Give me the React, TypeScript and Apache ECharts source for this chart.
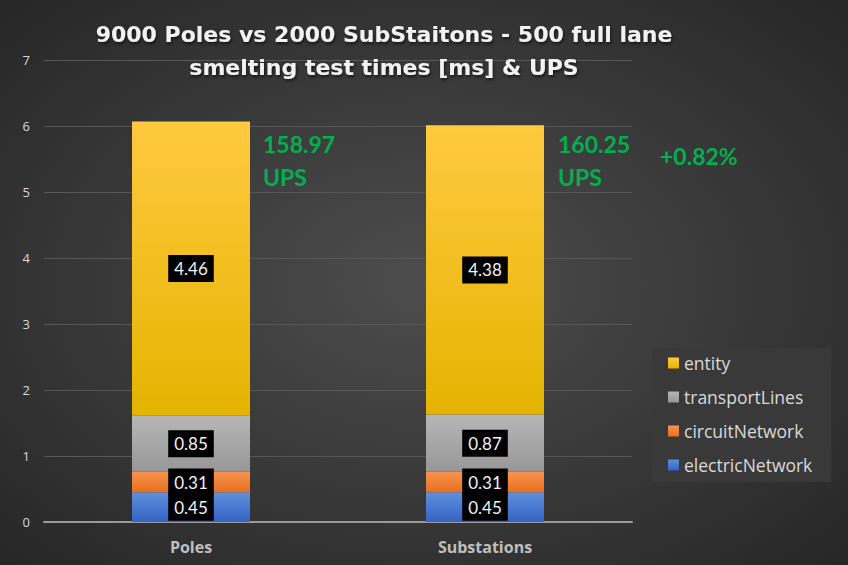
import React, { useEffect, useRef } from "react";
import * as echarts from "echarts";

const categories = ["Poles", "Substations"];
const electricNetwork = [0.45, 0.45];
const circuitNetwork = [0.31, 0.31];
const transportLines = [0.85, 0.87];
const entity = [4.46, 4.38];
const yTicks = [0, 1, 2, 3, 4, 5, 6, 7];
const upsLabels = ["158.97\nUPS", "160.25\nUPS"];
const diffLabel = "+0.82%";
const titleText = "9000 Poles vs 2000 SubStaitons - 500 full lane\nsmelting test times [ms] & UPS";

const FONT = "'Open Sans', Lato, sans-serif";
const GFONT = "Lato, 'Open Sans', sans-serif";
const TFONT = "'DejaVu Sans', 'Open Sans', sans-serif";

const grad = (top: string, bottom: string) => ({
  type: "linear",
  x: 0,
  y: 0,
  x2: 0,
  y2: 1,
  colorStops: [
    { offset: 0, color: top },
    { offset: 1, color: bottom },
  ],
});

export default function App() {
  const ref = useRef<HTMLDivElement>(null);
  useEffect(() => {
    document.body.style.margin = "0";
    if (!ref.current) return;
    const chart = echarts.init(ref.current, undefined, { renderer: "svg" });
    const label = {
      show: true,
      position: "inside",
      backgroundColor: "#000",
      color: "#f2f2f2",
      fontSize: 17,
      lineHeight: 20,
      fontFamily: GFONT,
      padding: [4, 6, 3, 6],
    };
    const mk = (name: string, data: number[], color: any) => ({
      name,
      type: "bar",
      stack: "total",
      data,
      barWidth: 118,
      itemStyle: { color },
      label,
    });
    chart.setOption({
      animation: false,
      backgroundColor: {
        type: "radial",
        x: 0.5,
        y: 0.5,
        r: 0.75,
        colorStops: [
          { offset: 0, color: "#4d4d4d" },
          { offset: 1, color: "#242424" },
        ],
      },
      title: {
        text: titleText,
        left: 384,
        top: 18,
        padding: 0,
        textAlign: "center",
        textStyle: {
          color: "#f2f2f2",
          fontSize: 22,
          fontWeight: "bold",
          fontFamily: TFONT,
          lineHeight: 33,
          textShadowColor: "rgba(0,0,0,0.6)",
          textShadowBlur: 3,
          textShadowOffsetX: 1,
          textShadowOffsetY: 2,
        },
      },
      grid: { left: 44, right: 216, top: 60, bottom: 43 },
      legend: {
        orient: "vertical",
        left: 652,
        top: 348,
        backgroundColor: "#393939",
        padding: [5, 19, 7, 16],
        itemGap: 14,
        itemWidth: 11,
        itemHeight: 11,
        itemTextGap: 13,
        icon: "rect",
        data: ["entity", "transportLines", "circuitNetwork", "electricNetwork"],
        textStyle: { color: "#d9d9d9", fontSize: 17.5, fontFamily: FONT, lineHeight: 20 },
      },
      xAxis: {
        type: "category",
        data: categories,
        axisLine: { lineStyle: { color: "#9a9a9a", width: 2 } },
        axisTick: { show: false },
        axisLabel: { color: "#bfbfbf", fontSize: 16, fontWeight: "bold", fontFamily: FONT, margin: 17 },
      },
      yAxis: {
        type: "value",
        min: yTicks[0],
        max: yTicks[yTicks.length - 1],
        interval: 1,
        axisLine: { show: false },
        axisTick: { show: false },
        splitLine: { lineStyle: { color: "#575757", width: 1 } },
        axisLabel: { color: "#d9d9d9", fontSize: 13, fontFamily: FONT, margin: 14 },
      },
      series: [
        mk("electricNetwork", electricNetwork, grad("#5f8fdc", "#3463c4")),
        mk("circuitNetwork", circuitNetwork, grad("#f7944f", "#e86f1d")),
        mk("transportLines", transportLines, grad("#b6b6b6", "#979797")),
        mk("entity", entity, grad("#ffc940", "#e4b400")),
      ],
      graphic: [
        {
          type: "text",
          x: 263,
          y: 127,
          style: { text: upsLabels[0], fill: "#00b050", font: `bold 23px ${GFONT}`, lineHeight: 33 },
        },
        {
          type: "text",
          x: 558,
          y: 127,
          style: { text: upsLabels[1], fill: "#00b050", font: `bold 23px ${GFONT}`, lineHeight: 33 },
        },
        {
          type: "text",
          x: 660,
          y: 142,
          style: { text: diffLabel, fill: "#00b050", font: `bold 23px ${GFONT}`, lineHeight: 28 },
        },
      ],
    });
    return () => chart.dispose();
  }, []);
  return <div ref={ref} style={{ width: 848, height: 565 }} />;
}
